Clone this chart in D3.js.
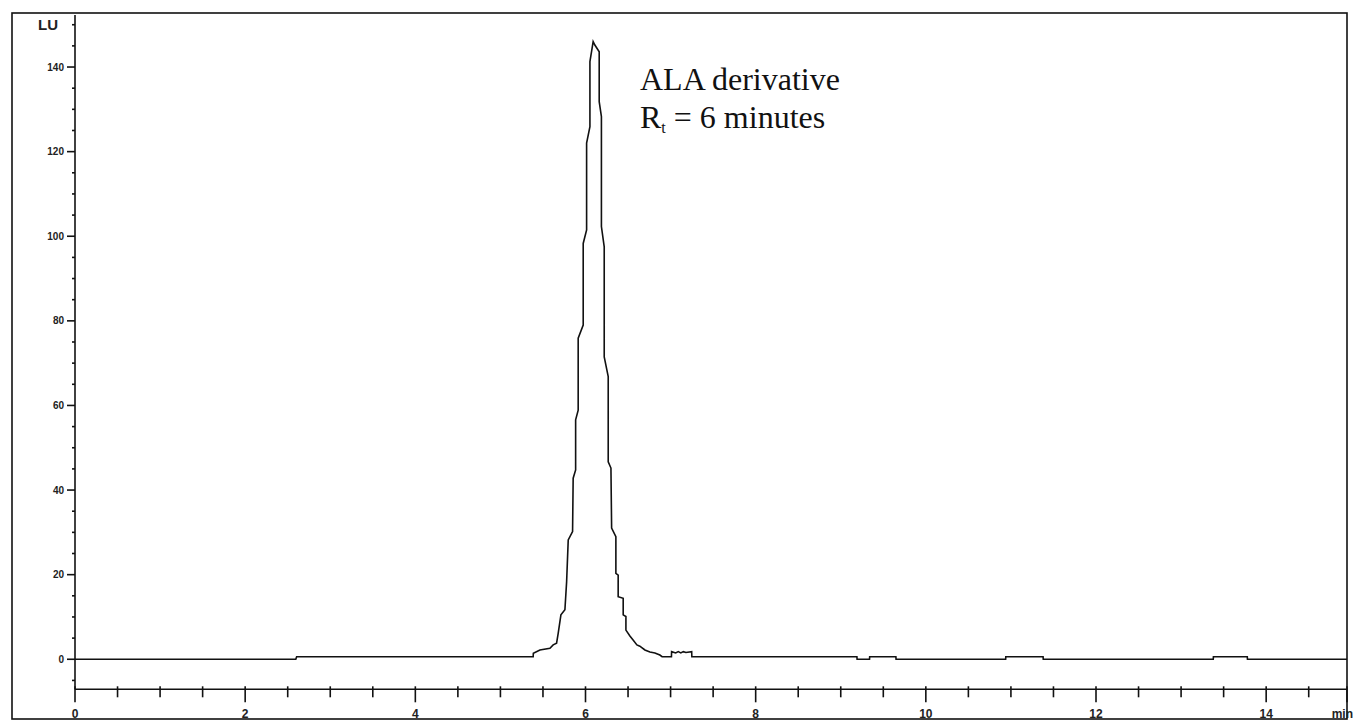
<!DOCTYPE html>
<html>
<head>
<meta charset="utf-8">
<script src="https://cdn.jsdelivr.net/npm/d3@7"></script>
<style>
  html, body { margin: 0; padding: 0; background: #fff; }
  svg { display: block; }
  .serif { font-family: "Liberation Serif", "Times New Roman", serif; }
  .tick { font-family: "Liberation Sans", Arial, sans-serif; font-weight: bold; }
</style>
</head>
<body>
<svg id="chart" width="1354" height="721"></svg>
<script>
// ---- data (retention time in minutes, signal in LU) ----
const times = [
  0, 2.595, 2.605, 5.385, 5.387, 5.464, 5.582, 5.620, 5.660, 5.679, 5.711, 5.758, 5.778, 5.797, 5.848,
  5.855, 5.884, 5.884, 5.914, 5.914, 5.973, 5.973, 6.013, 6.013, 6.052, 6.052, 6.090, 6.110, 6.161,
  6.161, 6.187, 6.187, 6.220, 6.220, 6.267, 6.267, 6.299, 6.307, 6.357, 6.357, 6.384, 6.384, 6.443,
  6.443, 6.475, 6.475, 6.522, 6.557, 6.604, 6.639, 6.698, 6.757, 6.816, 6.874, 6.900,
  7.010, 7.012, 7.06, 7.09, 7.12, 7.15, 7.18, 7.248, 7.250,
  9.190, 9.192, 9.338, 9.340, 9.648, 9.650, 10.938, 10.940, 11.378, 11.380, 13.378, 13.380, 13.778, 13.780, 14.95
];
const signal = [
  0, 0, 0.6, 0.6, 1.4, 2.2, 2.6, 3.4, 3.8, 6.1, 10.5, 11.7, 18.3, 28.2, 30.2,
  42.8, 44.75, 56.6, 58.9, 75.9, 79.0, 98.3, 101.5, 122.0, 125.9, 141.3, 146.0, 145.2, 143.6,
  131.8, 128.3, 102.3, 97.5, 71.5, 66.8, 46.7, 45.2, 31.0, 29.0, 20.3, 19.9, 14.8, 14.4,
  10.5, 10.1, 6.9, 5.5, 4.6, 3.4, 3.1, 2.2, 1.7, 1.5, 1.0, 0.6,
  0.6, 1.8, 1.5, 1.8, 1.5, 1.8, 1.6, 1.8, 0.6,
  0.6, 0, 0, 0.6, 0.6, 0, 0, 0.6, 0.6, 0, 0, 0.6, 0.6, 0, 0
];

const xMajorTicks = [0, 2, 4, 6, 8, 10, 12, 14, 14.95];
const xTickLabels = ["0", "2", "4", "6", "8", "10", "12", "14", "min"];
const yMajorTicks = [0, 20, 40, 60, 80, 100, 120, 140, 150];
const yTickLabels = ["0", "20", "40", "60", "80", "100", "120", "140", "LU"];
const xMinorStep = 0.5;
const yMinorStep = 5;

const annotationLines = ["ALA derivative", "= 6 minutes"];

// ---- layout ----
const svg = d3.select("#chart");
const x = d3.scaleLinear().domain([0, 14.95]).range([75, 1347]);
const y = d3.scaleLinear().domain([-7.1, 152.3]).range([689.3, 15]);

// frame
svg.append("rect")
  .attr("x", 12).attr("y", 13).attr("width", 1335).attr("height", 706)
  .attr("fill", "none").attr("stroke", "#111").attr("stroke-width", 1.6);

const xMinor = d3.range(0, 14.95, xMinorStep).filter(v => v % 2 !== 0);
const yMinor = d3.range(-5, 152, yMinorStep).filter(v => !yMajorTicks.includes(v));

// x axis
const gx = svg.append("g").attr("transform", `translate(0,${y(-7.1)})`);
gx.append("line").attr("x1", x(0)).attr("x2", x(14.95))
  .attr("stroke", "#111").attr("stroke-width", 1.6);
gx.selectAll("line.minor").data(xMinor).join("line").attr("class", "minor")
  .attr("x1", d => x(d)).attr("x2", d => x(d)).attr("y1", -3).attr("y2", 8)
  .attr("stroke", "#111").attr("stroke-width", 1.6);
gx.selectAll("line.major").data(xMajorTicks).join("line").attr("class", "major")
  .attr("x1", d => x(d)).attr("x2", d => x(d)).attr("y1", -3).attr("y2", 13)
  .attr("stroke", "#111").attr("stroke-width", 1.6);
gx.selectAll("text").data(xMajorTicks).join("text")
  .attr("class", "tick")
  .attr("x", (d, i) => i === xMajorTicks.length - 1 ? 1353 : x(d))
  .attr("y", 29)
  .attr("text-anchor", (d, i) => i === xMajorTicks.length - 1 ? "end" : "middle")
  .attr("font-size", 12).attr("fill", "#222")
  .text((d, i) => xTickLabels[i]);

// y axis
const gy = svg.append("g").attr("transform", `translate(${x(0)},0)`);
gy.append("line").attr("y1", y(152.3)).attr("y2", y(-7.1))
  .attr("stroke", "#111").attr("stroke-width", 1.6);
gy.selectAll("line.minor").data(yMinor).join("line").attr("class", "minor")
  .attr("x1", -3).attr("x2", 0).attr("y1", d => y(d)).attr("y2", d => y(d))
  .attr("stroke", "#111").attr("stroke-width", 1.6);
gy.selectAll("line.major").data(yMajorTicks.slice(0, -1)).join("line").attr("class", "major")
  .attr("x1", -8).attr("x2", 0).attr("y1", d => y(d)).attr("y2", d => y(d))
  .attr("stroke", "#111").attr("stroke-width", 1.6);
gy.append("line").attr("x1", -3).attr("x2", 0)
  .attr("y1", y(150)).attr("y2", y(150))
  .attr("stroke", "#111").attr("stroke-width", 1.6);
gy.selectAll("text").data(yMajorTicks).join("text")
  .attr("class", "tick")
  .attr("x", (d, i) => i === yMajorTicks.length - 1 ? -17 : -11)
  .attr("y", d => y(d))
  .attr("dy", "0.36em")
  .attr("text-anchor", "end")
  .attr("font-size", (d, i) => i === yMajorTicks.length - 1 ? 15 : 10)
  .attr("fill", "#222")
  .text((d, i) => yTickLabels[i]);

// trace
const pts = times.map((t, i) => [t, signal[i]]);
const line = d3.line().x(d => x(d[0])).y(d => y(d[1])).curve(d3.curveLinear);
svg.append("path").datum(pts)
  .attr("d", line)
  .attr("fill", "none").attr("stroke", "#111").attr("stroke-width", 1.6)
  .attr("stroke-linejoin", "miter");

// annotation
const ann = svg.append("g").attr("class", "serif")
  .attr("font-size", 32).attr("fill", "#111");
ann.append("text").attr("x", 640).attr("y", 90).text(annotationLines[0]);
const t2 = ann.append("text").attr("x", 640).attr("y", 128);
t2.append("tspan").text("R");
t2.append("tspan").attr("font-size", 16).attr("dy", 5).text("t");
t2.append("tspan").attr("dy", -5).text(" " + annotationLines[1]);
</script>
</body>
</html>
